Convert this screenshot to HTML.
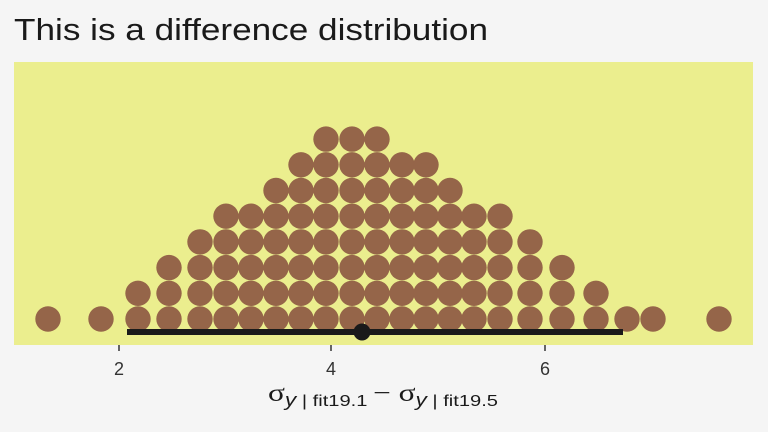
<!DOCTYPE html>
<html><head><style>body{margin:0;background:#f5f5f5}</style></head><body>
<svg width="768" height="432" xmlns="http://www.w3.org/2000/svg" style="display:block">
<rect width="768" height="432" fill="#f5f5f5"/>
<text x="14" y="40" font-family="Liberation Sans, sans-serif" font-size="31" fill="#1a1a1a" textLength="474" lengthAdjust="spacingAndGlyphs">This is a difference distribution</text>
<rect x="14" y="62" width="739" height="283" fill="#ebee8e"/>
<g fill="#956549" id="d"></g>
<line x1="127" y1="332" x2="623" y2="332" stroke="#1a1a1a" stroke-width="6"/>
<circle cx="362" cy="332" r="8.5" fill="#1a1a1a"/>
<g stroke="#333" stroke-width="1.5"><line x1="119" y1="345" x2="119" y2="351"/><line x1="331" y1="345" x2="331" y2="351"/><line x1="545" y1="345" x2="545" y2="351"/></g>
<g font-family="Liberation Sans, sans-serif" font-size="18" fill="#333" text-anchor="middle"><text x="119" y="375">2</text><text x="331" y="375">4</text><text x="545" y="375">6</text></g>
<text x="268" y="401" font-family="Liberation Serif, serif" font-size="25" fill="#1a1a1a" textLength="230" lengthAdjust="spacingAndGlyphs">σ<tspan font-family="Liberation Sans, sans-serif" font-size="18" font-style="italic" dy="5">y</tspan><tspan font-family="Liberation Sans, sans-serif" font-size="16"> | fit19.1 </tspan><tspan dy="-5">− σ</tspan><tspan font-family="Liberation Sans, sans-serif" font-size="18" font-style="italic" dy="5">y</tspan><tspan font-family="Liberation Sans, sans-serif" font-size="16"> | fit19.5</tspan></text>
</svg>
<script>
var c=[[48,1],[101,1],[138,2],[169,3],[200,4],[226,5],[251,5],[276,6],[301,7],[326,8],[352,8],[377,8],[402,7],[426,7],[450,6],[474,5],[500,5],[530,4],[562,3],[596,2],[627,1],[653,1],[719,1]];
var g=document.getElementById('d'),s='';
c.forEach(function(a){for(var i=0;i<a[1];i++){s+='<circle cx="'+a[0]+'" cy="'+(319-i*25.7)+'" r="12.7"/>';}});
g.innerHTML=s;
</script>
</body></html>
